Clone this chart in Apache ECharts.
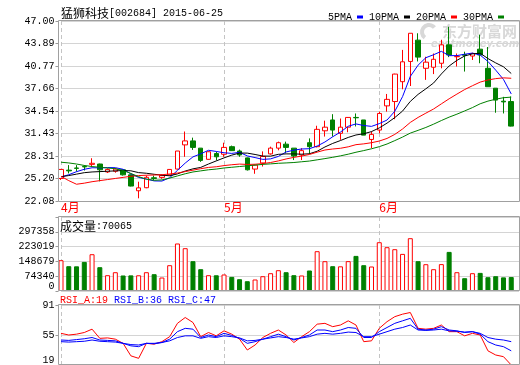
<!DOCTYPE html>
<html><head><meta charset="utf-8">
<script src="https://cdn.jsdelivr.net/npm/echarts@6/dist/echarts.min.js"></script>
<style>html,body{margin:0;padding:0;background:#fff}#c{width:520px;height:365px}</style>
</head><body><div id="c"></div>
<script>
const dates = ['2015-04-01','2015-04-02','2015-04-03','2015-04-07','2015-04-08','2015-04-09','2015-04-10','2015-04-13','2015-04-14','2015-04-15','2015-04-16','2015-04-17','2015-04-20','2015-04-21','2015-04-22','2015-04-23','2015-04-24','2015-04-27','2015-04-28','2015-04-29','2015-04-30',
'2015-05-04','2015-05-05','2015-05-06','2015-05-07','2015-05-08','2015-05-11','2015-05-12','2015-05-13','2015-05-14','2015-05-15','2015-05-18','2015-05-19','2015-05-20','2015-05-21','2015-05-22','2015-05-25','2015-05-26','2015-05-27','2015-05-28','2015-05-29',
'2015-06-01','2015-06-02','2015-06-03','2015-06-04','2015-06-05','2015-06-08','2015-06-09','2015-06-10','2015-06-11','2015-06-12','2015-06-15','2015-06-16','2015-06-17','2015-06-18','2015-06-19','2015-06-23','2015-06-24','2015-06-25'];
const open  = [25.2,26.35,26.65,26.85,27.15,27.2,26.1,26.2,26.4,25.7,23.5,23.92,25.3,25.35,25.7,26.5,29.85,30.4,29.4,27.85,28.65,28.55,29.6,29.0,28.05,26.5,27.35,28.6,29.4,29.95,29.4,28.45,30.15,29.6,31.8,33.3,31.45,32.3,33.65,33.3,30.6,31.9,35.25,35.85,38.6,41.4,44.35,40.45,40.6,41.15,43.7,42.05,42.35,42.15,43.1,40.45,37.7,35.9,35.85];
const close = [26.45,26.25,26.6,26.8,27.3,26.4,26.45,26.5,25.7,24.15,23.9,25.36,25.2,25.6,26.45,29.0,30.4,29.5,27.7,28.9,28.2,29.5,29.05,28.45,26.4,27.05,28.25,29.4,30.15,29.5,28.3,29.05,29.6,32.0,32.3,31.9,32.3,33.65,33.6,31.2,31.3,34.2,36.15,39.65,41.35,45.3,42.0,41.3,41.7,43.7,42.3,42.1,42.25,42.5,42.3,37.9,36.05,35.8,32.45];
const low   = [25.0,25.9,26.15,26.3,26.85,24.8,25.95,26.0,25.6,24.1,22.45,23.85,24.95,25.15,25.6,26.45,28.2,29.15,27.5,27.8,27.7,28.2,29.0,28.2,26.3,25.85,26.85,28.5,29.1,28.7,27.75,27.75,28.6,29.5,31.0,31.0,30.55,31.6,32.4,31.2,29.4,31.45,34.45,33.4,37.55,38.0,41.4,38.85,39.65,40.45,42.0,40.7,40.0,41.6,41.15,37.9,34.3,34.2,32.4];
const high  = [26.5,27.05,27.05,27.05,28.0,27.25,26.6,26.65,26.45,25.75,24.75,25.6,25.6,25.75,26.5,29.0,31.7,30.85,29.4,28.95,28.9,30.15,29.75,29.2,28.1,27.1,28.95,29.6,30.3,30.3,29.4,29.4,30.75,32.5,33.2,34.1,33.5,33.7,34.2,33.3,31.7,34.45,36.9,39.7,43.0,45.3,45.3,42.05,42.5,44.4,46.2,42.5,42.75,42.6,45.1,43.4,37.7,36.5,36.55];
const ma5  = [25.4,25.72,26.14,26.47,26.68,26.67,26.71,26.69,26.47,25.84,25.34,25.12,24.86,24.84,25.3,26.32,27.33,28.19,28.61,29.1,28.94,28.76,28.67,28.82,28.32,28.09,27.84,27.91,28.25,28.87,29.12,29.28,29.32,29.69,30.25,30.97,31.62,32.43,32.75,32.53,32.41,32.79,33.29,34.5,36.53,39.33,40.89,41.92,42.33,42.8,42.2,42.21,42.4,42.56,42.28,41.4,40.2,38.91,36.9];
const ma10 = [25.45,25.6,25.8,26.0,26.1,26.15,26.2,26.25,26.3,26.26,26.01,25.92,25.78,25.66,25.57,25.83,26.23,26.53,26.73,27.2,27.63,28.05,28.43,28.72,28.71,28.52,28.3,28.29,28.54,28.6,28.6,28.56,28.62,28.97,29.56,30.05,30.45,30.88,31.22,31.39,31.69,32.2,32.86,33.63,34.53,35.87,36.84,37.61,38.42,39.67,40.77,41.55,42.16,42.45,42.54,41.8,41.2,40.66,39.73];
const ma20 = [25.5,24.9,24.4,24.55,24.75,24.9,25.05,25.2,25.35,25.5,25.6,25.65,25.68,25.72,25.82,25.95,26.15,26.35,26.55,26.73,26.82,26.98,27.1,27.19,27.14,27.17,27.26,27.41,27.63,27.9,28.12,28.3,28.52,28.84,29.14,29.28,29.38,29.58,29.88,29.99,30.15,30.38,30.74,31.3,32.05,32.96,33.65,34.24,34.82,35.53,36.23,36.88,37.51,38.04,38.54,38.84,39.02,39.13,39.07];
const ma30 = [27.45,27.35,27.2,27.0,26.85,26.75,26.65,26.55,26.3,25.9,25.45,25.1,24.95,25.0,25.25,25.55,25.85,26.1,26.25,26.4,26.5,26.65,26.75,26.85,26.95,27.05,27.15,27.22,27.3,27.35,27.41,27.51,27.61,27.78,27.95,28.13,28.33,28.56,28.83,29.06,29.31,29.6,29.97,30.44,30.93,31.48,31.86,32.26,32.72,33.22,33.69,34.1,34.55,35.01,35.54,35.91,36.17,36.38,36.46];
const volume = [154700,124600,124000,146200,184800,119600,79400,94400,78000,78500,79000,94400,84400,67800,129600,238600,215000,149700,109500,79400,79000,82900,70800,59300,49200,57800,74300,89400,104500,94400,79400,78000,103000,199900,149700,124600,124000,150000,176300,129600,123000,245100,220000,210000,186400,265200,149700,134600,109500,135000,196400,94400,64300,89400,91000,69300,74300,68500,70065];
const rsiA = [57,55,56,58,62,51,51.5,50,45,30,27,45,44,47,53,69,76,70,53,58,54,60,56,50,37,43,52,57,61,55,46,53,59,68,69,65,67,72,67,47,48,63,71,77,80,82,63,62,63,67,59,59,54,57,55,36,31,29,19];
const rsiB = [49,48.5,49.5,50.5,52,49,48.5,48,45,42,41,45,44.5,46,50,59,63,62,52,55,53,57,54.5,51,45,47,50,53,56,53,49,52,55,61,61,59,61,64,63,52,52,59,64,69,72,75,62,61,62,65,61,60,58,59,56,47,43,41,36];
const rsiC = [47,46.5,47,47.5,49,47.5,47,46.5,45,43.5,43,45,45,46,48,52,54,54,51,53,52,54,53,51.5,48,48.5,50,51.5,53,52,50,51.5,53,56,57,56,57,58.5,58,53,53,56,59,62,64,67,61,60.5,61,62,60,59.5,58.5,59,57,52,50,49,47];
const priceTicks = ['22.08','25.20','28.31','31.43','34.54','37.66','40.77','43.89','47.00'];
const volTicks = ['0','74340','148679','223019','297358'];
const rsiTicks = ['19','55','91'];
const title = {name:'猛狮科技', code:'[002684] 2015-06-25'};
const maNames = ['5PMA','10PMA','20PMA','30PMA'];

const MONO = "'Liberation Mono','DejaVu Sans Mono',monospace";
const CJK = "'Noto Sans CJK SC'";
const N = dates.length;
const cats = dates.concat(['']);
const monthStart = i => i === 0 || (i < N && dates[i].slice(5,7) !== dates[i-1].slice(5,7));
const isUp = open.map((o,i) => close[i] >= o);
const candleData = open.map((o,i) => [o, close[i], low[i], high[i]]);
const volData = volume.map((v,i) => ({value: v, itemStyle: isUp[i]
  ? {color:'#ffffff', borderColor:'#ff0000', borderWidth:1}
  : {color:'#008000', borderColor:'#008000', borderWidth:1}}));

const gridLine = {lineStyle:{color:'#d4d4d4', width:1}};
function xAx(gi, showLabel) {
  return {
    type:'category', gridIndex:gi, data:cats, boundaryGap:false,
    axisLine:{show:false}, axisTick:{show:false},
    axisLabel: showLabel ? {
      interval:(i)=>monthStart(i), align:'left', margin:0,
      color:'#ff0000', fontSize:12, fontFamily:CJK,
      formatter:(v)=> v ? (parseInt(v.slice(5,7),10) + '月') : ''
    } : {show:false},
    splitLine:{show:true, interval:(i)=>monthStart(i), lineStyle:{color:'#c4c4c4', type:[4,3], width:1}}
  };
}
const shiftRich = {fontFamily:MONO, fontSize:10, color:'#000', padding:[0,0,10,0]};
const yBase = {axisLine:{show:false}, axisTick:{show:true, length:3, lineStyle:{color:'#999'}}, offset:2.5, splitLine:gridLine};

const chart = echarts.init(document.getElementById('c'), null, {renderer:'canvas', width:520, height:365});
chart.setOption({
  animation:false,
  backgroundColor:'#ffffff',
  grid:[
    {left:61, right:1, top:21, height:180},
    {left:61, right:1, top:217, height:74},
    {left:61, right:1, top:305, height:60}
  ],
  legend:{
    data:maNames, right:11, top:7, align:'right', icon:'rect',
    itemWidth:6, itemHeight:3, itemGap:6,
    textStyle:{fontFamily:MONO, fontSize:10, color:'#000'}
  },
  xAxis:[xAx(0,true), xAx(1,false), xAx(2,false)],
  yAxis:[
    Object.assign({type:'value', gridIndex:0, min:22.08, max:47, interval:3.115,
      axisLabel:{margin:4, fontFamily:MONO, fontSize:10, color:'#000',
        formatter:(v)=> priceTicks[Math.round((v-22.08)/3.115)] || ''}}, yBase),
    Object.assign({type:'value', gridIndex:1, min:0, max:371697.5, interval:74339.5,
      axisLabel:{margin:4, fontFamily:MONO, fontSize:10, color:'#000',
        formatter:(v)=>{const k=Math.round(v/74339.5); if(k===0) return '{s|0}'; return volTicks[k]||'';},
        rich:{s:shiftRich}}}, yBase),
    Object.assign({type:'value', gridIndex:2, min:19, max:91, interval:36,
      axisLabel:{margin:4, fontFamily:MONO, fontSize:10, color:'#000',
        formatter:(v)=>{const k=Math.round((v-19)/36); if(k===0) return '{s|19}'; return rsiTicks[k]||'';},
        rich:{s:shiftRich}}}, yBase)
  ],
  series:[
    {type:'candlestick', xAxisIndex:0, yAxisIndex:0, data:candleData, barWidth:5, z:2,
      itemStyle:{color:'#ffffff', color0:'#008000', borderColor:'#ff0000', borderColor0:'#008000', borderWidth:1}},
    {name:maNames[0], type:'line', xAxisIndex:0, yAxisIndex:0, data:ma5, symbol:'none', z:3, color:'#0000ff', lineStyle:{width:1, color:'#0000ff'}},
    {name:maNames[1], type:'line', xAxisIndex:0, yAxisIndex:0, data:ma10, symbol:'none', z:3, color:'#000000', lineStyle:{width:1, color:'#000000'}},
    {name:maNames[2], type:'line', xAxisIndex:0, yAxisIndex:0, data:ma20, symbol:'none', z:3, color:'#ff0000', lineStyle:{width:1, color:'#ff0000'}},
    {name:maNames[3], type:'line', xAxisIndex:0, yAxisIndex:0, data:ma30, symbol:'none', z:3, color:'#008000', lineStyle:{width:1, color:'#008000'}},
    {type:'bar', xAxisIndex:1, yAxisIndex:1, data:volData, barWidth:5},
    {type:'line', xAxisIndex:2, yAxisIndex:2, data:rsiA, symbol:'none', lineStyle:{width:1, color:'#ff0000'}},
    {type:'line', xAxisIndex:2, yAxisIndex:2, data:rsiB, symbol:'none', lineStyle:{width:1, color:'#0000ff'}},
    {type:'line', xAxisIndex:2, yAxisIndex:2, data:rsiC, symbol:'none', lineStyle:{width:1, color:'#0000ff'}}
  ],
  graphic:[
    {type:'rect', silent:true, z:10, shape:{x:58.5, y:20.5, width:461, height:181}, style:{fill:'none', stroke:'#a0a0a0', lineWidth:1}},
    {type:'rect', silent:true, z:10, shape:{x:58.5, y:216.5, width:461, height:74}, style:{fill:'none', stroke:'#a0a0a0', lineWidth:1}},
    {type:'rect', silent:true, z:10, shape:{x:58.5, y:304.5, width:461, height:60}, style:{fill:'none', stroke:'#a0a0a0', lineWidth:1}},
    {type:'text', silent:true, z:10, x:61, y:13, style:{
      text:'{c|' + title.name + '}{a|' + title.code + '}', verticalAlign:'middle',
      rich:{c:{fontFamily:CJK, fontSize:12, fill:'#000'}, a:{fontFamily:MONO, fontSize:10, fill:'#000'}}}},
    {type:'text', silent:true, z:10, x:60, y:226, style:{
      text:'{c|成交量}{a|:' + volume[N-1] + '}', verticalAlign:'middle',
      rich:{c:{fontFamily:CJK, fontSize:12, fill:'#000'}, a:{fontFamily:MONO, fontSize:10, fill:'#000'}}}},
    {type:'text', silent:true, z:10, x:60, y:300, style:{
      text:'{r|RSI_A:' + rsiA[N-1] + ' }{b|RSI_B:' + rsiB[N-1] + ' }{b|RSI_C:' + rsiC[N-1] + '}', verticalAlign:'middle',
      rich:{r:{fontFamily:MONO, fontSize:10, fill:'#ff0000'}, b:{fontFamily:MONO, fontSize:10, fill:'#0000ff'}}}},
    {type:'arc', silent:true, z:1, shape:{cx:429, cy:32, r:7, startAngle:2.2, endAngle:5.6}, style:{fill:'none', stroke:'#d8d8d8', lineWidth:4}},
    {type:'text', silent:true, z:1, x:442, y:31, style:{text:'东方财富网', fontFamily:CJK, fontSize:15, fontWeight:'bold', fill:'#d8d8d8', verticalAlign:'middle'}},
    {type:'text', silent:true, z:1, x:431, y:44, style:{text:'eastmoney.com', fontFamily:"'DejaVu Sans'", fontSize:10, fontWeight:'bold', fontStyle:'italic', fill:'#d8d8d8', verticalAlign:'middle'}}
  ]
});
</script>
</body></html>
